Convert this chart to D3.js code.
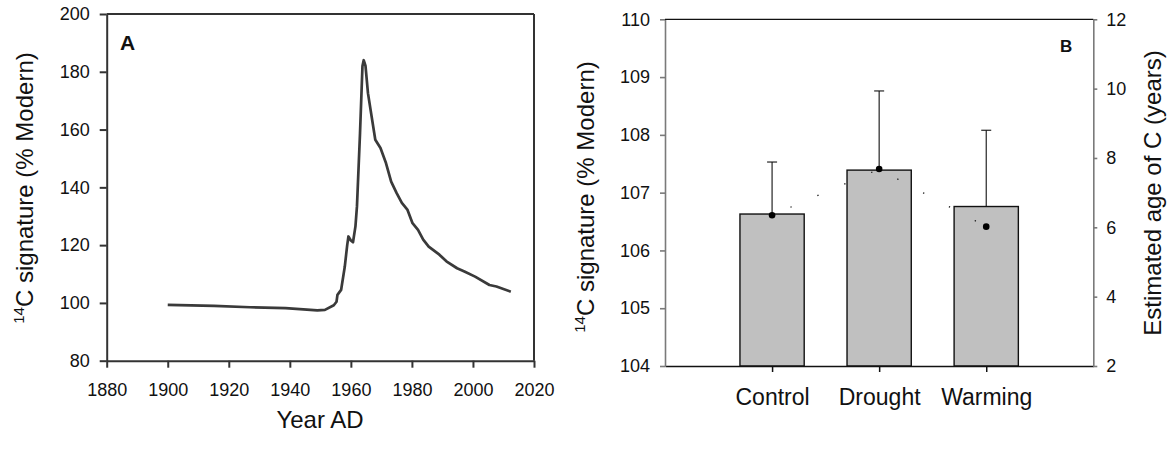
<!DOCTYPE html>
<html lang="en">
<head>
  <meta charset="UTF-8">
  <title>14C signature</title>
  <style>
    body { margin: 0; background: #fff; }
    text { font-family: Arial, "Liberation Sans", sans-serif; fill: #111; }
  </style>
</head>
<body>
  <svg id="chart" width="1176" height="450"></svg>
<script src="https://cdn.jsdelivr.net/npm/d3@7"></script>
<script>
  // panel A: atmospheric 14C curve
  let years = [1900, 1915.2, 1927, 1938.6, 1945.6, 1949, 1951.5, 1954.4, 1955.3, 1955.6, 1956.8, 1958, 1958.8, 1959.2, 1960, 1960.7, 1961.5, 1962, 1963, 1963.8, 1964.2, 1964.8, 1965.6, 1966.8, 1968, 1969.7, 1971.5, 1973.2, 1975, 1976.7, 1978.5, 1980.2, 1982, 1983.7, 1985.5, 1989, 1991.3, 1994.8, 1997.2, 2000.7, 2005.4, 2007.7, 2012.4]
  let c14 = [99.3, 99.0, 98.5, 98.2, 97.7, 97.4, 97.6, 99.2, 100.4, 102.8, 104.5, 112.5, 120, 123, 121.6, 121, 126.5, 133.5, 158.8, 182, 184, 182, 172.6, 164.5, 156.5, 153.6, 148.4, 142, 138, 134.6, 132.3, 127.6, 125.3, 121.9, 119.5, 116.7, 114.4, 112, 110.9, 109.1, 106.2, 105.7, 103.9]
  let yearTicks = [1880, 1900, 1920, 1940, 1960, 1980, 2000, 2020]
  let c14Ticks = [80, 100, 120, 140, 160, 180, 200]

  // panel B: treatments
  let treatments = ["Control", "Drought", "Warming"]
  let signature = [106.63, 107.39, 106.76]
  let signatureErr = [0.9, 1.37, 1.32]
  let carbonAge = [6.35, 7.68, 6.02]
  let sigTicks = [104, 105, 106, 107, 108, 109, 110]
  let ageTicks = [2, 4, 6, 8, 10, 12]

  let svg = d3.select("#chart")
  let font = "Arial, 'Liberation Sans', sans-serif"

  function yTitle(g, x, y, rest) {
    let t = g.append("text")
             .attr("transform", `translate(${x},${y}) rotate(-90)`)
             .attr("text-anchor", "middle")
             .attr("font-size", 24)
    if (rest === null) return t
    t.append("tspan").attr("font-size", 15).attr("dy", -9).text("14")
    t.append("tspan").attr("dy", 9).text(rest)
    return t
  }

  // ---------- panel A ----------
  let xA = d3.scaleLinear().domain([1880, 2020]).range([106.7, 534])
  let yA = d3.scaleLinear().domain([80, 200]).range([360.7, 14])
  let a = svg.append("g")

  a.append("g")
   .attr("transform", `translate(0,${yA(80)})`)
   .call(d3.axisBottom(xA).tickValues(yearTicks).tickFormat(d3.format("d")).tickSize(7).tickSizeOuter(0).tickPadding(16))
  a.append("g")
   .attr("transform", `translate(${xA(1880)},0)`)
   .call(d3.axisLeft(yA).tickValues(c14Ticks).tickFormat(d3.format("d")).tickSize(7).tickSizeOuter(0).tickPadding(10))
  a.selectAll(".domain, .tick line").attr("stroke", "#333").attr("stroke-width", 2)
  a.selectAll(".tick text").attr("font-size", 18).attr("font-family", font)

  // frame top/right
  a.append("line").attr("x1", xA(1880)).attr("x2", xA(2020)).attr("y1", yA(200)).attr("y2", yA(200))
   .attr("stroke", "#333").attr("stroke-width", 2)
  a.append("line").attr("x1", xA(2020)).attr("x2", xA(2020)).attr("y1", yA(200)).attr("y2", yA(80))
   .attr("stroke", "#333").attr("stroke-width", 2)

  let line = d3.line().x((d, i) => xA(years[i])).y(d => yA(d))
  a.append("path")
   .datum(c14)
   .attr("d", line)
   .attr("fill", "none")
   .attr("stroke", "#3a3a3a")
   .attr("stroke-width", 2.7)
   .attr("stroke-linejoin", "round")

  a.append("text").attr("x", 120).attr("y", 50).attr("font-size", 21).attr("font-weight", "bold").text("A")
  a.append("text").attr("x", 320).attr("y", 428).attr("text-anchor", "middle").attr("font-size", 24).text("Year AD")
  yTitle(a, 33, 188, "C signature (% Modern)")

  // ---------- panel B ----------
  let xB = d3.scaleLinear().domain([0, 4]).range([665, 1093.3])
  let yB = d3.scaleLinear().domain([104, 110]).range([366, 19.3])
  let yR = d3.scaleLinear().domain([2, 12]).range([366, 19.3])
  let b = svg.append("g")
  let barW = (xB(1) - xB(0)) * 0.6

  b.selectAll("rect.bar")
   .data(signature)
   .enter()
   .append("rect")
   .attr("class", "bar")
   .attr("x", (d, i) => xB(i + 1) - barW / 2)
   .attr("width", barW)
   .attr("y", d => yB(d))
   .attr("height", d => yB(104) - yB(d))
   .attr("fill", "#c0c0c0")
   .attr("stroke", "#111")
   .attr("stroke-width", 1.4)

  let errs = b.append("g").selectAll("g")
              .data(signature)
              .enter()
              .append("g")
  errs.append("line")
      .attr("x1", (d, i) => xB(i + 1)).attr("x2", (d, i) => xB(i + 1))
      .attr("y1", d => yB(d)).attr("y2", (d, i) => yB(d + signatureErr[i]))
      .attr("stroke", "#111").attr("stroke-width", 1.1)
  errs.append("line")
      .attr("x1", (d, i) => xB(i + 1) - 5).attr("x2", (d, i) => xB(i + 1) + 5)
      .attr("y1", (d, i) => yB(d + signatureErr[i])).attr("y2", (d, i) => yB(d + signatureErr[i]))
      .attr("stroke", "#111").attr("stroke-width", 1.1)

  // age on right axis: sparse dotted line and points
  let ageLine = d3.line().x((d, i) => xB(i + 1)).y(d => yR(d))
  b.append("path")
   .datum(carbonAge)
   .attr("d", ageLine)
   .attr("fill", "none")
   .attr("stroke", "#111")
   .attr("stroke-width", 1.3)
   .attr("stroke-dasharray", "1.3,28")
   .attr("stroke-dashoffset", -20)
  b.selectAll("circle")
   .data(carbonAge)
   .enter()
   .append("circle")
   .attr("cx", (d, i) => xB(i + 1))
   .attr("cy", d => yR(d))
   .attr("r", 3.3)
   .attr("fill", "#000")

  let bx = b.append("g")
            .attr("transform", `translate(0,${yB(104)})`)
            .call(d3.axisBottom(xB).tickValues([1, 2, 3]).tickFormat(d => treatments[d - 1]).tickSize(6).tickSizeOuter(0).tickPadding(17))
  bx.selectAll(".domain, .tick line").attr("stroke", "#111").attr("stroke-width", 1.5)
  bx.selectAll(".tick text").attr("font-size", 23).attr("font-family", font)

  let bl = b.append("g")
            .attr("transform", `translate(${xB(0)},0)`)
            .call(d3.axisLeft(yB).tickValues(sigTicks).tickFormat(d3.format("d")).tickSize(5).tickSizeOuter(0).tickPadding(10))
  bl.selectAll(".domain, .tick line").attr("stroke", "#7a7a7a").attr("stroke-width", 1.6)
  bl.selectAll(".tick text").attr("font-size", 18).attr("font-family", font)

  let br = b.append("g")
            .attr("transform", `translate(${xB(4)},0)`)
            .call(d3.axisRight(yR).tickValues(ageTicks).tickFormat(d3.format("d")).tickSize(4).tickSizeOuter(0).tickPadding(9))
  br.selectAll(".domain, .tick line").attr("stroke", "#7a7a7a").attr("stroke-width", 1.6)
  br.selectAll(".tick text").attr("font-size", 18).attr("font-family", font)

  b.append("line").attr("x1", xB(0)).attr("x2", xB(4)).attr("y1", yB(110)).attr("y2", yB(110))
   .attr("stroke", "#111").attr("stroke-width", 1.3)

  b.append("text").attr("x", 1060).attr("y", 52).attr("font-size", 17).attr("font-weight", "bold").text("B")
  yTitle(b, 594, 197, "C signature (% Modern)")
  yTitle(b, 1161, 193, null).text("Estimated age of C (years)")
</script>
</body>
</html>
